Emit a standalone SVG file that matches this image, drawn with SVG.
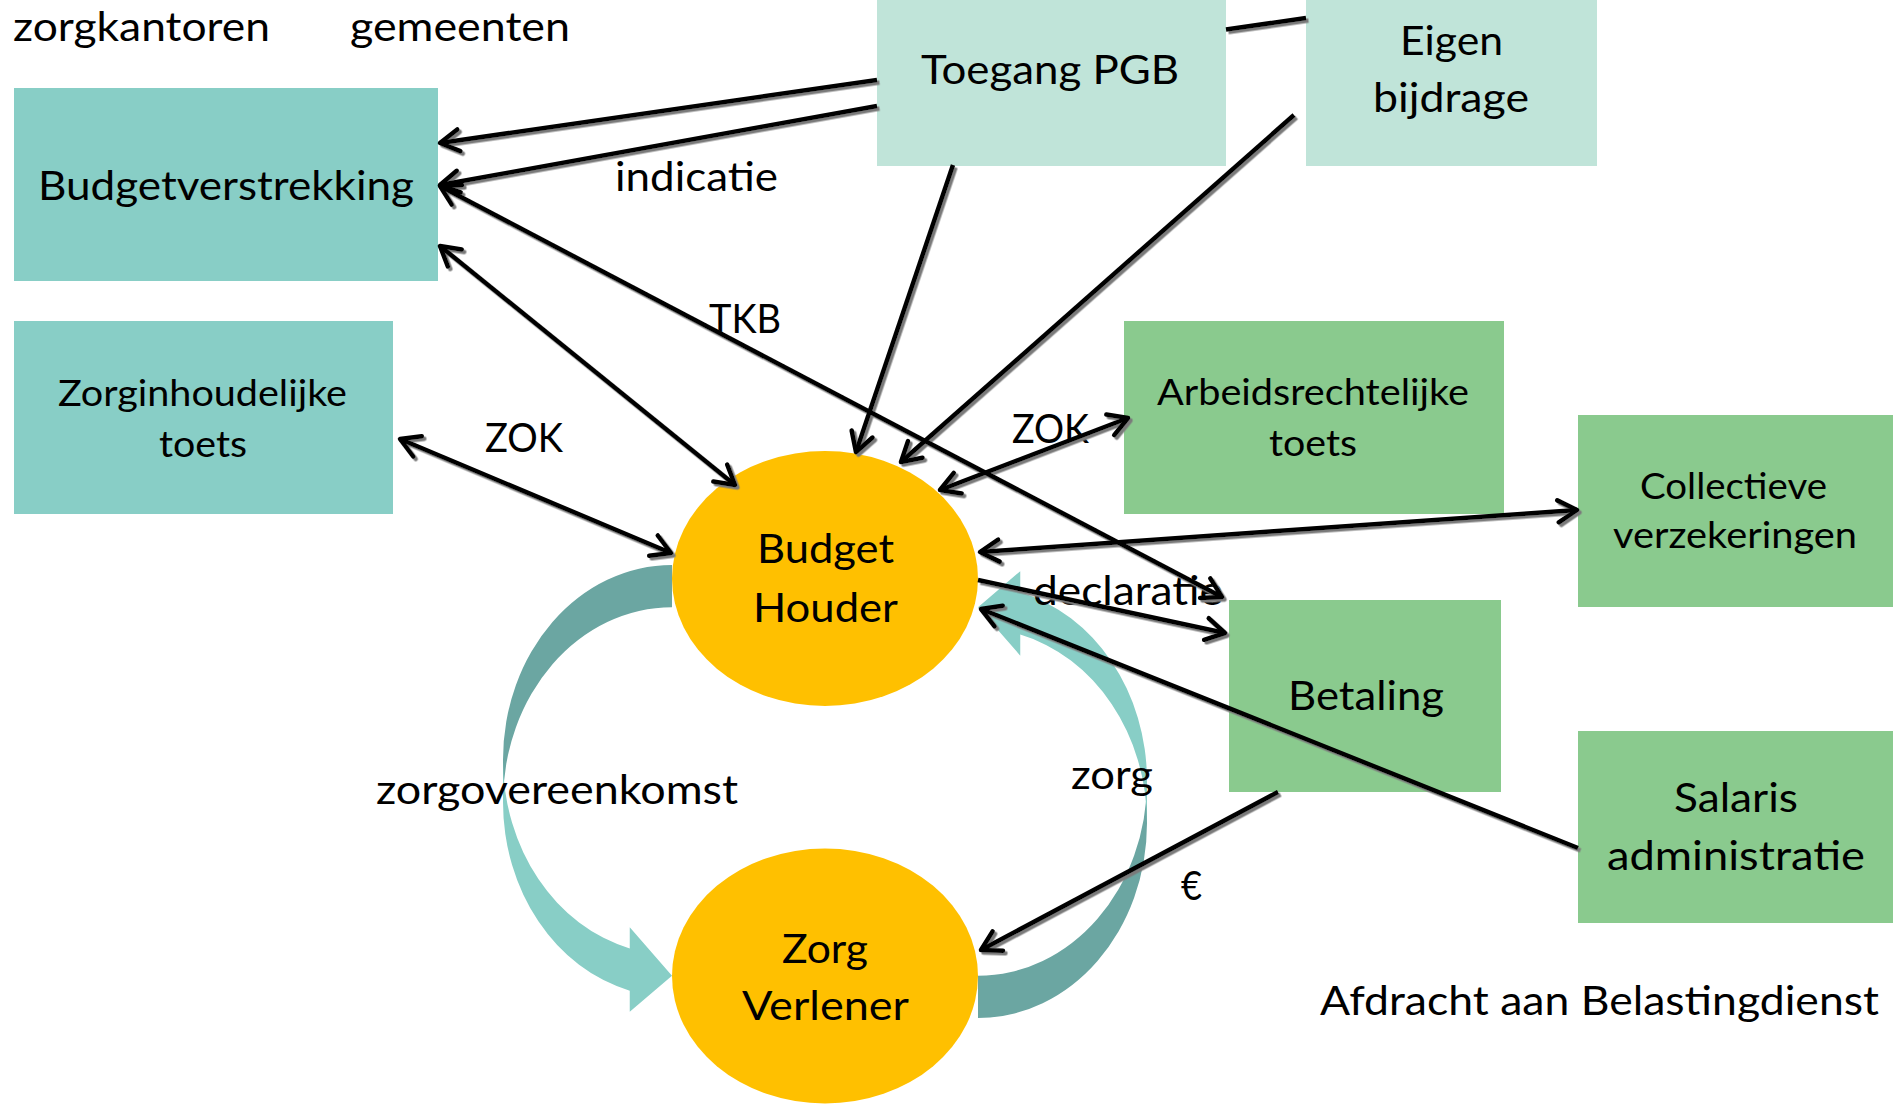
<svg xmlns="http://www.w3.org/2000/svg" xmlns:xlink="http://www.w3.org/1999/xlink" width="1897" height="1104" viewBox="0 0 1897 1104">
<style>
text{font-family:Lato,"Open Sans","Liberation Sans",sans-serif;fill:#000}
.big{font-size:41px}
.sm{font-size:36px}
.teal{fill:#88CEC6}
.mint{fill:#C0E4D9}
.green{fill:#8ACA8E}
.oval{fill:#FFC000}
.ln{fill:none;stroke:#000;stroke-width:4.5}
.dark{fill:#6BA6A2}
.light{fill:#88CEC6}
</style>
<defs>
<marker id="ah" viewBox="0 0 30 30" refX="25" refY="15" markerWidth="30" markerHeight="30" markerUnits="userSpaceOnUse" orient="auto-start-reverse">
<path d="M6,4 L25,15 L6,26" fill="none" stroke="#000" stroke-width="4.5" stroke-linejoin="round" stroke-linecap="round"/>
</marker>
<filter id="sh" x="-5%" y="-5%" width="110%" height="110%">
<feDropShadow dx="2.5" dy="2.5" stdDeviation="0.7" flood-color="#7a7a7a" flood-opacity="1"/>
</filter>
<g id="curvedArrow">
<path class="dark" d="M169,42.25 A169,194.8 0 0 0 0,237.05 L0,194.8 A169,194.8 0 0 1 169,0 Z"/>
<path class="light" d="M0,194.8 A169,194.8 0 0 0 126.75,383.4 L126.75,362.3 L169,410.75 L126.75,446.8 L126.75,425.65 A169,194.8 0 0 1 0,237.05 Z"/>
</g>
</defs>
<rect width="1897" height="1104" fill="#fff"/>

<g id="nodes">
<g id="budgetverstrekking"><rect class="teal" x="14" y="88" width="424" height="193"/><text class="big" x="38" y="200" textLength="376" lengthAdjust="spacingAndGlyphs">Budgetverstrekking</text></g>
<g id="zorginhoudelijke-toets"><rect class="teal" x="14" y="321" width="379" height="193"/><text class="sm" x="58" y="406" textLength="289" lengthAdjust="spacingAndGlyphs">Zorginhoudelijke</text><text class="sm" x="159" y="457" textLength="88" lengthAdjust="spacingAndGlyphs">toets</text></g>
<g id="toegang-pgb"><rect class="mint" x="877" y="0" width="349" height="166"/><text class="big" x="921" y="84" textLength="258" lengthAdjust="spacingAndGlyphs">Toegang PGB</text></g>
<g id="eigen-bijdrage"><rect class="mint" x="1306" y="0" width="291" height="166"/><text class="big" x="1400" y="55" textLength="103" lengthAdjust="spacingAndGlyphs">Eigen</text><text class="big" x="1373" y="112" textLength="156" lengthAdjust="spacingAndGlyphs">bijdrage</text></g>
<g id="arbeidsrechtelijke-toets"><rect class="green" x="1124" y="321" width="380" height="193"/><text class="sm" x="1157" y="405" textLength="312" lengthAdjust="spacingAndGlyphs">Arbeidsrechtelijke</text><text class="sm" x="1269" y="456" textLength="88" lengthAdjust="spacingAndGlyphs">toets</text></g>
<g id="collectieve-verzekeringen"><rect class="green" x="1578" y="415" width="315" height="192"/><text class="sm" x="1640" y="499" textLength="187" lengthAdjust="spacingAndGlyphs">Collectieve</text><text class="sm" x="1613" y="548" textLength="244" lengthAdjust="spacingAndGlyphs">verzekeringen</text></g>
<g id="betaling"><rect class="green" x="1229" y="600" width="272" height="192"/><text class="big" x="1288" y="710" textLength="156" lengthAdjust="spacingAndGlyphs">Betaling</text></g>
<g id="salaris-administratie"><rect class="green" x="1578" y="731" width="315" height="192"/><text class="big" x="1674" y="812" textLength="124" lengthAdjust="spacingAndGlyphs">Salaris</text><text class="big" x="1607" y="870" textLength="258" lengthAdjust="spacingAndGlyphs">administratie</text></g>
<g id="budget-houder"><ellipse class="oval" cx="825" cy="578.5" rx="153" ry="127.5"/><text class="big" x="757" y="563" textLength="137" lengthAdjust="spacingAndGlyphs">Budget</text><text class="big" x="753" y="622" textLength="145" lengthAdjust="spacingAndGlyphs">Houder</text></g>
<g id="zorg-verlener"><ellipse class="oval" cx="825" cy="976" rx="153" ry="127.5"/><text class="big" x="782" y="963" textLength="86" lengthAdjust="spacingAndGlyphs">Zorg</text><text class="big" x="742" y="1020" textLength="167" lengthAdjust="spacingAndGlyphs">Verlener</text></g>
</g>

<g id="connectors">
<g id="curved-arrows">
<use xlink:href="#curvedArrow" href="#curvedArrow" transform="translate(503,565)"/>
<use xlink:href="#curvedArrow" href="#curvedArrow" transform="translate(1147,1018) rotate(180)"/>
</g>
<g id="connector-labels">
<text class="big" x="615" y="191" textLength="163" lengthAdjust="spacingAndGlyphs">indicatie</text>
<text class="big" x="709" y="333" textLength="72" lengthAdjust="spacingAndGlyphs">TKB</text>
<text class="big" x="485" y="452" textLength="78" lengthAdjust="spacingAndGlyphs">ZOK</text>
<text class="big" x="1012" y="443" textLength="77" lengthAdjust="spacingAndGlyphs">ZOK</text>
<text class="big" x="1033" y="605" textLength="190" lengthAdjust="spacingAndGlyphs">declaratie</text>
<text class="big" x="376" y="804" textLength="362" lengthAdjust="spacingAndGlyphs">zorgovereenkomst</text>
<text class="big" x="1071" y="789" textLength="82" lengthAdjust="spacingAndGlyphs">zorg</text>
<text class="big" x="1181" y="900" textLength="21" lengthAdjust="spacingAndGlyphs">€</text>
</g>
<g id="lines" filter="url(#sh)">
<path class="ln" d="M1306,18 L1226,29.6 M877,80 L440,143" marker-end="url(#ah)"/>
<path class="ln" d="M877,106 L440,185" marker-end="url(#ah)"/>
<path class="ln" d="M440,246 L735,485" marker-start="url(#ah)" marker-end="url(#ah)"/>
<path class="ln" d="M440,186 L1222,597" marker-start="url(#ah)" marker-end="url(#ah)"/>
<path class="ln" d="M953,165 L856,452" marker-end="url(#ah)"/>
<path class="ln" d="M1294,115 L901,462" marker-end="url(#ah)"/>
<path class="ln" d="M400,439 L671,553" marker-start="url(#ah)" marker-end="url(#ah)"/>
<path class="ln" d="M940,490 L1128,418" marker-start="url(#ah)" marker-end="url(#ah)"/>
<path class="ln" d="M980,552 L1577,510" marker-start="url(#ah)" marker-end="url(#ah)"/>
<path class="ln" d="M978,580 L1225,633" marker-end="url(#ah)"/>
<path class="ln" d="M1578,848 L981,609" marker-end="url(#ah)"/>
<path class="ln" d="M1278,792 L981,950" marker-end="url(#ah)"/>
</g>
</g>

<g id="free-text">
<text class="big" x="13" y="41" textLength="257" lengthAdjust="spacingAndGlyphs">zorgkantoren</text>
<text class="big" x="350" y="41" textLength="220" lengthAdjust="spacingAndGlyphs">gemeenten</text>
<text class="big" x="1320" y="1015" textLength="559" lengthAdjust="spacingAndGlyphs">Afdracht aan Belastingdienst</text>
</g>
</svg>
